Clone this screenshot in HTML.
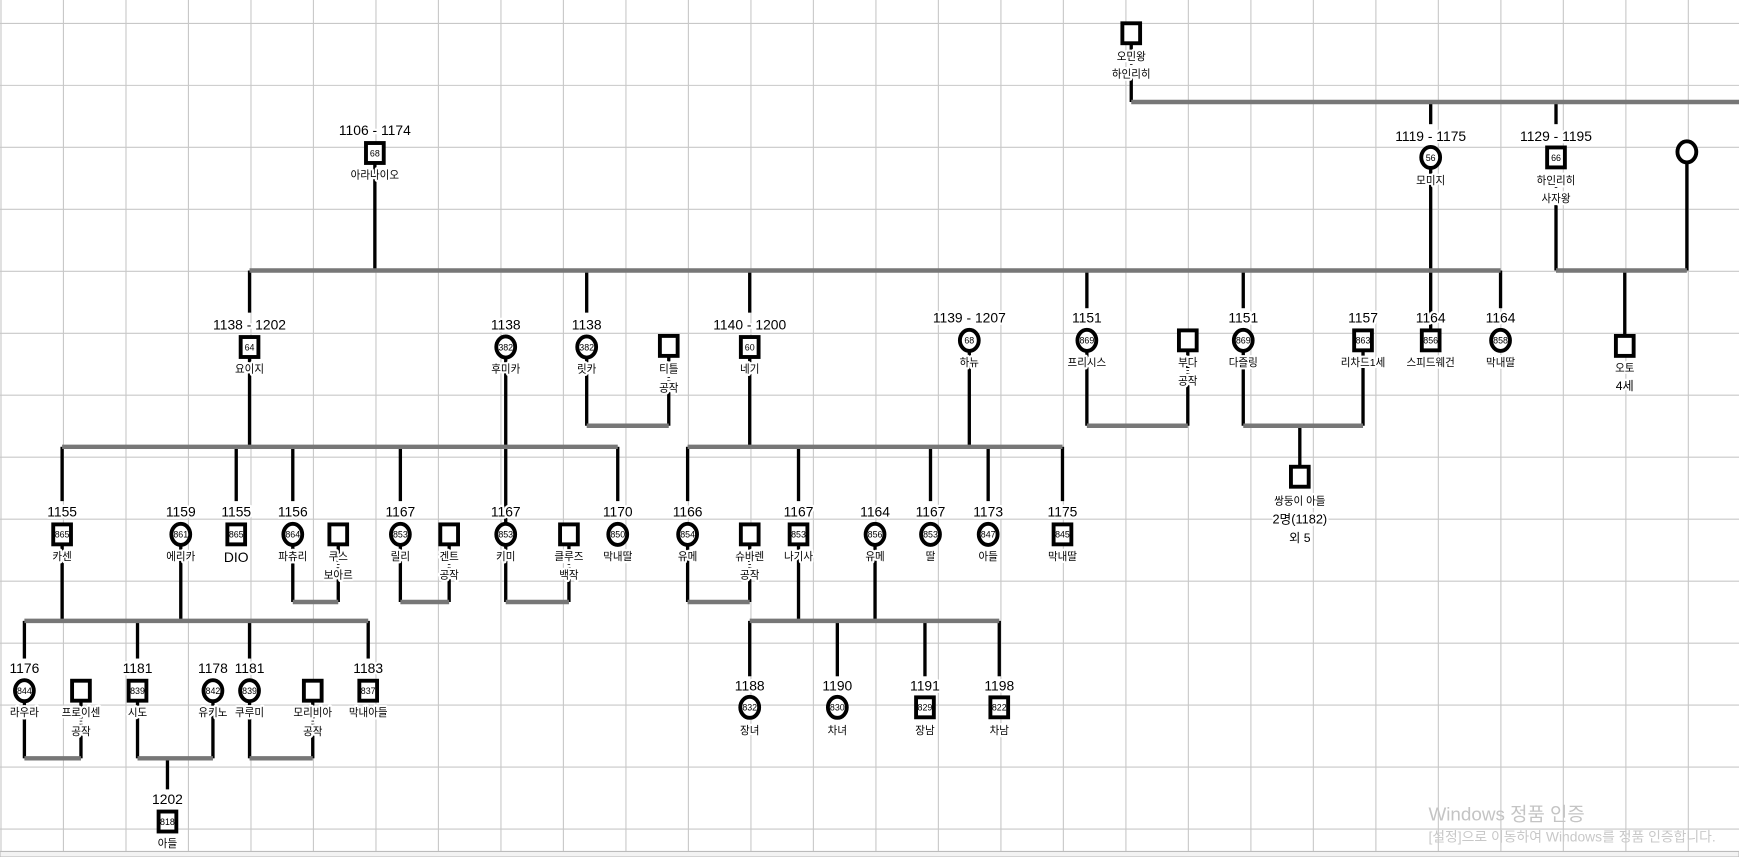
<!DOCTYPE html>
<html><head><meta charset="utf-8">
<style>
html,body{margin:0;padding:0;background:#fff;width:1739px;height:857px;overflow:hidden}
svg{display:block}
text{font-family:"Liberation Sans","Noto Sans CJK KR",sans-serif;text-anchor:middle;fill:#000}
.y text,.n text{stroke:#fff;stroke-width:4px;paint-order:stroke;stroke-linejoin:round}
.y{font-size:12.5px}
.n{font-size:9.5px}
.k{font-size:8px}
.v{stroke:#000;stroke-width:3}
.h{stroke:#777;stroke-width:4}
.g{stroke:#c8c8c8;stroke-width:1}
.s{fill:#fff;stroke:#000;stroke-width:3.5}
</style></head><body>
<svg width="1739" height="857" viewBox="0 0 1568 773" preserveAspectRatio="none">
<g class="g">
<line x1="0.9" y1="0" x2="0.9" y2="773"/><line x1="57.2" y1="0" x2="57.2" y2="773"/><line x1="113.6" y1="0" x2="113.6" y2="773"/><line x1="169.9" y1="0" x2="169.9" y2="773"/><line x1="226.3" y1="0" x2="226.3" y2="773"/><line x1="282.6" y1="0" x2="282.6" y2="773"/><line x1="339" y1="0" x2="339" y2="773"/><line x1="395.3" y1="0" x2="395.3" y2="773"/><line x1="451.7" y1="0" x2="451.7" y2="773"/><line x1="508" y1="0" x2="508" y2="773"/><line x1="564.4" y1="0" x2="564.4" y2="773"/><line x1="620.7" y1="0" x2="620.7" y2="773"/><line x1="677.1" y1="0" x2="677.1" y2="773"/><line x1="733.4" y1="0" x2="733.4" y2="773"/><line x1="789.8" y1="0" x2="789.8" y2="773"/><line x1="846.1" y1="0" x2="846.1" y2="773"/><line x1="902.5" y1="0" x2="902.5" y2="773"/><line x1="958.8" y1="0" x2="958.8" y2="773"/><line x1="1015.2" y1="0" x2="1015.2" y2="773"/><line x1="1071.5" y1="0" x2="1071.5" y2="773"/><line x1="1127.9" y1="0" x2="1127.9" y2="773"/><line x1="1184.2" y1="0" x2="1184.2" y2="773"/><line x1="1240.6" y1="0" x2="1240.6" y2="773"/><line x1="1296.9" y1="0" x2="1296.9" y2="773"/><line x1="1353.3" y1="0" x2="1353.3" y2="773"/><line x1="1409.6" y1="0" x2="1409.6" y2="773"/><line x1="1466" y1="0" x2="1466" y2="773"/><line x1="1522.3" y1="0" x2="1522.3" y2="773"/>
<line x1="0" y1="21.1" x2="1568" y2="21.1"/><line x1="0" y1="77" x2="1568" y2="77"/><line x1="0" y1="132.9" x2="1568" y2="132.9"/><line x1="0" y1="188.8" x2="1568" y2="188.8"/><line x1="0" y1="244.7" x2="1568" y2="244.7"/><line x1="0" y1="300.6" x2="1568" y2="300.6"/><line x1="0" y1="356.5" x2="1568" y2="356.5"/><line x1="0" y1="412.4" x2="1568" y2="412.4"/><line x1="0" y1="468.3" x2="1568" y2="468.3"/><line x1="0" y1="524.2" x2="1568" y2="524.2"/><line x1="0" y1="580.1" x2="1568" y2="580.1"/><line x1="0" y1="636" x2="1568" y2="636"/><line x1="0" y1="691.9" x2="1568" y2="691.9"/><line x1="0" y1="747.8" x2="1568" y2="747.8"/>
</g>
<rect x="0" y="768" width="1568" height="5" fill="#f3f3f3" stroke="#bbb" stroke-width="1"/>

<g class="v">
<line x1="1020" y1="40" x2="1020" y2="92"/>
<line x1="1290" y1="92" x2="1290" y2="112"/><line x1="1290" y1="150" x2="1290" y2="298"/>
<line x1="1403" y1="92" x2="1403" y2="112"/><line x1="1403" y1="185" x2="1403" y2="244"/>
<line x1="1521" y1="146" x2="1521" y2="244"/><line x1="1465" y1="244" x2="1465" y2="304"/>
<line x1="338" y1="146" x2="338" y2="244"/>
<line x1="225" y1="244" x2="225" y2="282"/><line x1="225" y1="320" x2="225" y2="403"/>
<line x1="456" y1="320" x2="456" y2="474"/>
<line x1="529" y1="244" x2="529" y2="282"/><line x1="529" y1="320" x2="529" y2="384"/><line x1="603" y1="320" x2="603" y2="384"/>
<line x1="676" y1="244" x2="676" y2="282"/><line x1="676" y1="320" x2="676" y2="403"/>
<line x1="874" y1="315" x2="874" y2="403"/>
<line x1="980" y1="244" x2="980" y2="278"/><line x1="980" y1="315" x2="980" y2="384"/><line x1="1071" y1="315" x2="1071" y2="384"/>
<line x1="1121" y1="244" x2="1121" y2="278"/><line x1="1121" y1="315" x2="1121" y2="384"/><line x1="1229" y1="315" x2="1229" y2="384"/>
<line x1="1172" y1="384" x2="1172" y2="422"/>
<line x1="1353" y1="244" x2="1353" y2="278"/>
<line x1="56" y1="403" x2="56" y2="452"/><line x1="56" y1="490" x2="56" y2="560"/>
<line x1="163" y1="490" x2="163" y2="560"/>
<line x1="213" y1="403" x2="213" y2="452"/>
<line x1="264" y1="403" x2="264" y2="452"/><line x1="264" y1="490" x2="264" y2="543"/><line x1="305" y1="490" x2="305" y2="543"/>
<line x1="361" y1="403" x2="361" y2="452"/><line x1="361" y1="490" x2="361" y2="543"/><line x1="405" y1="490" x2="405" y2="543"/>
<line x1="456" y1="490" x2="456" y2="543"/><line x1="513" y1="490" x2="513" y2="543"/>
<line x1="557" y1="403" x2="557" y2="452"/>
<line x1="620" y1="403" x2="620" y2="452"/><line x1="620" y1="490" x2="620" y2="543"/><line x1="676" y1="490" x2="676" y2="543"/>
<line x1="720" y1="403" x2="720" y2="452"/><line x1="720" y1="490" x2="720" y2="560"/>
<line x1="789" y1="490" x2="789" y2="560"/>
<line x1="839" y1="403" x2="839" y2="452"/><line x1="891" y1="403" x2="891" y2="452"/><line x1="958" y1="403" x2="958" y2="452"/>
<line x1="676" y1="560" x2="676" y2="610"/><line x1="755" y1="560" x2="755" y2="610"/><line x1="834" y1="560" x2="834" y2="610"/><line x1="901" y1="560" x2="901" y2="610"/>
<line x1="22" y1="560" x2="22" y2="594"/><line x1="22" y1="630" x2="22" y2="684"/><line x1="73" y1="630" x2="73" y2="684"/>
<line x1="124" y1="560" x2="124" y2="594"/><line x1="124" y1="630" x2="124" y2="684"/><line x1="192" y1="630" x2="192" y2="684"/>
<line x1="225" y1="560" x2="225" y2="594"/><line x1="225" y1="630" x2="225" y2="684"/><line x1="282" y1="630" x2="282" y2="684"/>
<line x1="332" y1="560" x2="332" y2="594"/>
<line x1="151" y1="684" x2="151" y2="712"/>
</g>
<g class="h">
<line x1="1020" y1="92" x2="1568" y2="92"/>
<line x1="1403" y1="244" x2="1521" y2="244"/>
<line x1="225" y1="244" x2="1353" y2="244"/>
<line x1="529" y1="384" x2="603" y2="384"/>
<line x1="980" y1="384" x2="1071" y2="384"/>
<line x1="1121" y1="384" x2="1229" y2="384"/>
<line x1="56" y1="403" x2="557" y2="403"/>
<line x1="620" y1="403" x2="958" y2="403"/>
<line x1="264" y1="543" x2="305" y2="543"/><line x1="361" y1="543" x2="405" y2="543"/><line x1="456" y1="543" x2="513" y2="543"/><line x1="620" y1="543" x2="676" y2="543"/>
<line x1="22" y1="560" x2="332" y2="560"/>
<line x1="676" y1="560" x2="901" y2="560"/>
<line x1="22" y1="684" x2="73" y2="684"/><line x1="124" y1="684" x2="192" y2="684"/><line x1="225" y1="684" x2="282" y2="684"/>
</g>

<g class="s">
<rect x="1012" y="21" width="16" height="18"/>
<ellipse cx="1290" cy="142" rx="8.5" ry="9.5"/>
<rect x="1395" y="133" width="16" height="18"/>
<ellipse cx="1521" cy="137" rx="8.5" ry="9.5"/>
<rect x="1457" y="303" width="16" height="18"/>
<rect x="330" y="129" width="16" height="18"/>
<rect x="217" y="304" width="16" height="18"/>
<ellipse cx="456" cy="313" rx="8.5" ry="9.5"/>
<ellipse cx="529" cy="313" rx="8.5" ry="9.5"/>
<rect x="595" y="303" width="16" height="18"/>
<rect x="668" y="304" width="16" height="18"/>
<ellipse cx="874" cy="307" rx="8.5" ry="9.5"/>
<ellipse cx="980" cy="307" rx="8.5" ry="9.5"/>
<rect x="1063" y="298" width="16" height="18"/>
<ellipse cx="1121" cy="307" rx="8.5" ry="9.5"/>
<rect x="1221" y="298" width="16" height="18"/>
<rect x="1282" y="298" width="16" height="18"/>
<ellipse cx="1353" cy="307" rx="8.5" ry="9.5"/>
<rect x="1164" y="421" width="16" height="18"/>
<rect x="48" y="473" width="16" height="18"/>
<ellipse cx="163" cy="482" rx="8.5" ry="9.5"/>
<rect x="205" y="473" width="16" height="18"/>
<ellipse cx="264" cy="482" rx="8.5" ry="9.5"/>
<rect x="297" y="473" width="16" height="18"/>
<ellipse cx="361" cy="482" rx="8.5" ry="9.5"/>
<rect x="397" y="473" width="16" height="18"/>
<ellipse cx="456" cy="482" rx="8.5" ry="9.5"/>
<rect x="505" y="473" width="16" height="18"/>
<ellipse cx="557" cy="482" rx="8.5" ry="9.5"/>
<ellipse cx="620" cy="482" rx="8.5" ry="9.5"/>
<rect x="668" y="473" width="16" height="18"/>
<rect x="712" y="473" width="16" height="18"/>
<ellipse cx="789" cy="482" rx="8.5" ry="9.5"/>
<ellipse cx="839" cy="482" rx="8.5" ry="9.5"/>
<ellipse cx="891" cy="482" rx="8.5" ry="9.5"/>
<rect x="950" y="473" width="16" height="18"/>
<ellipse cx="676" cy="638" rx="8.5" ry="9.5"/>
<ellipse cx="755" cy="638" rx="8.5" ry="9.5"/>
<rect x="826" y="629" width="16" height="18"/>
<rect x="893" y="629" width="16" height="18"/>
<ellipse cx="22" cy="623" rx="8.5" ry="9.5"/>
<rect x="65" y="614" width="16" height="18"/>
<rect x="116" y="614" width="16" height="18"/>
<ellipse cx="192" cy="623" rx="8.5" ry="9.5"/>
<ellipse cx="225" cy="623" rx="8.5" ry="9.5"/>
<rect x="274" y="614" width="16" height="18"/>
<rect x="324" y="614" width="16" height="18"/>
<rect x="143" y="732" width="16" height="18"/>
</g>

<g class="k">
<text x="1290" y="145">56</text><text x="1403" y="145">66</text><text x="338" y="141">68</text>
<text x="225" y="316">64</text><text x="456" y="316">382</text><text x="529" y="316">382</text><text x="676" y="316">60</text>
<text x="874" y="310">68</text><text x="980" y="310">869</text><text x="1121" y="310">869</text><text x="1229" y="310">863</text><text x="1290" y="310">856</text><text x="1353" y="310">858</text>
<text x="56" y="485">865</text><text x="163" y="485">861</text><text x="213" y="485">865</text><text x="264" y="485">864</text><text x="361" y="485">853</text><text x="456" y="485">853</text><text x="557" y="485">850</text>
<text x="620" y="485">854</text><text x="720" y="485">853</text><text x="789" y="485">856</text><text x="839" y="485">853</text><text x="891" y="485">847</text><text x="958" y="485">845</text>
<text x="676" y="641">832</text><text x="755" y="641">830</text><text x="834" y="641">829</text><text x="901" y="641">822</text>
<text x="22" y="626">844</text><text x="124" y="626">839</text><text x="192" y="626">842</text><text x="225" y="626">839</text><text x="332" y="626">837</text><text x="151" y="744">818</text>
</g>

<g class="y">
<text x="1290" y="127">1119 - 1175</text><text x="1403" y="127">1129 - 1195</text>
<text x="338" y="122">1106 - 1174</text>
<text x="225" y="297">1138 - 1202</text><text x="456" y="297">1138</text><text x="529" y="297">1138</text><text x="676" y="297">1140 - 1200</text>
<text x="874" y="291">1139 - 1207</text><text x="980" y="291">1151</text><text x="1121" y="291">1151</text><text x="1229" y="291">1157</text><text x="1290" y="291">1164</text><text x="1353" y="291">1164</text>
<text x="56" y="466">1155</text><text x="163" y="466">1159</text><text x="213" y="466">1155</text><text x="264" y="466">1156</text><text x="361" y="466">1167</text><text x="456" y="466">1167</text><text x="557" y="466">1170</text>
<text x="620" y="466">1166</text><text x="720" y="466">1167</text><text x="789" y="466">1164</text><text x="839" y="466">1167</text><text x="891" y="466">1173</text><text x="958" y="466">1175</text>
<text x="676" y="623">1188</text><text x="755" y="623">1190</text><text x="834" y="623">1191</text><text x="901" y="623">1198</text>
<text x="22" y="607">1176</text><text x="124" y="607">1181</text><text x="192" y="607">1178</text><text x="225" y="607">1181</text><text x="332" y="607">1183</text>
<text x="151" y="725">1202</text>
</g>

<g class="n">
<text x="1020" y="54">오민왕</text><text x="1020" y="61">-</text><text x="1020" y="70">하인리히</text>
<text x="1290" y="166">모미지</text>
<text x="1403" y="166">하인리히</text><text x="1403" y="172">-</text><text x="1403" y="182">사자왕</text>
<text x="1465" y="335">오토</text><text x="1465" y="352" style="font-size:11px">4세</text>
<text x="338" y="161">아라나이오</text>
<text x="225" y="336">요이지</text><text x="456" y="336">후미카</text><text x="529" y="336">릿카</text>
<text x="603" y="336">티틀</text><text x="603" y="343">-</text><text x="603" y="353">공작</text>
<text x="676" y="336">네기</text>
<text x="874" y="330">하뉴</text><text x="980" y="330">프리시스</text>
<text x="1071" y="330">부다</text><text x="1071" y="337">-</text><text x="1071" y="347">공작</text>
<text x="1121" y="330">다즐링</text><text x="1229" y="330">리차드1세</text><text x="1290" y="330">스피드웨건</text><text x="1353" y="330">막내딸</text>
<text x="1172" y="455">쌍둥이 아들</text><text x="1172" y="472" style="font-size:11.5px">2명(1182)</text><text x="1172" y="489" style="font-size:11px">외 5</text>
<text x="56" y="505">카센</text><text x="163" y="505">에리카</text><text x="213" y="507" style="font-size:12.5px">DIO</text><text x="264" y="505">파츄리</text>
<text x="305" y="505">쿠스</text><text x="305" y="512">-</text><text x="305" y="522">보아르</text>
<text x="361" y="505">릴리</text>
<text x="405" y="505">겐트</text><text x="405" y="512">-</text><text x="405" y="522">공작</text>
<text x="456" y="505">키미</text>
<text x="513" y="505">클루즈</text><text x="513" y="512">-</text><text x="513" y="522">백작</text>
<text x="557" y="505">막내딸</text><text x="620" y="505">유메</text>
<text x="676" y="505">슈바렌</text><text x="676" y="512">-</text><text x="676" y="522">공작</text>
<text x="720" y="505">나기사</text><text x="789" y="505">유메</text><text x="839" y="505">딸</text><text x="891" y="505">아들</text><text x="958" y="505">막내딸</text>
<text x="676" y="662">장녀</text><text x="755" y="662">차녀</text><text x="834" y="662">장남</text><text x="901" y="662">차남</text>
<text x="22" y="646">라우라</text>
<text x="73" y="646">프로이센</text><text x="73" y="653">-</text><text x="73" y="663">공작</text>
<text x="124" y="646">시도</text><text x="192" y="646">유키노</text><text x="225" y="646">쿠루미</text>
<text x="282" y="646">모리비아</text><text x="282" y="653">-</text><text x="282" y="663">공작</text>
<text x="332" y="646">막내아들</text>
<text x="151" y="764">아들</text>
</g>

<text x="1288" y="740" style="text-anchor:start;font-size:17px;fill:#c4c4c4">Windows 정품 인증</text>
<text x="1288" y="759" style="text-anchor:start;font-size:12.5px;fill:#c8c8c8">[설정]으로 이동하여 Windows를 정품 인증합니다.</text>
</svg>
</body></html>
